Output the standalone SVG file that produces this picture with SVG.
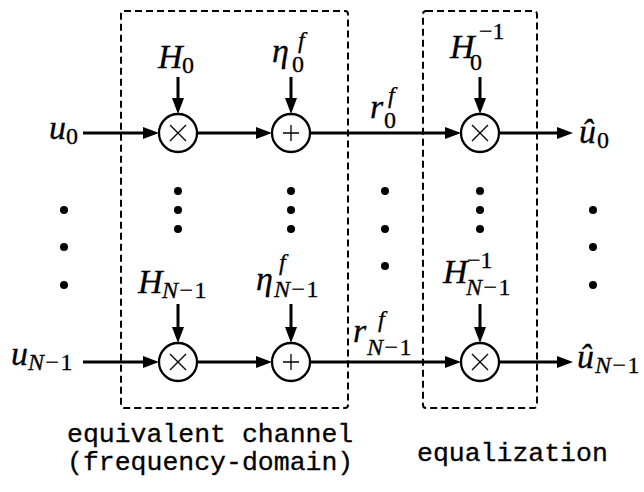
<svg xmlns="http://www.w3.org/2000/svg" width="644" height="492" viewBox="0 0 644 492">
<style>
.m{font-family:"Liberation Serif","Times New Roman",serif;font-size:34px;font-style:italic;fill:#000;stroke:#000;stroke-width:0.3}
.s{font-size:24px}
.r{font-style:normal}
.ls{letter-spacing:1.5px}
.t{font-family:"Liberation Mono","Courier New",monospace;font-size:26.5px;fill:#000;stroke:#000;stroke-width:0.3}
.w{stroke:#000;stroke-width:3;fill:none}
.c{stroke:#000;stroke-width:2.3;fill:#fff}
.op{stroke:#000;stroke-width:1.3;fill:none}
.box{stroke:#000;stroke-width:2;fill:none;stroke-dasharray:7 4}
.dot{fill:#000}
</style>
<defs>
<marker id="ah" markerUnits="userSpaceOnUse" viewBox="0 0 16 12" refX="6" refY="6" markerWidth="16" markerHeight="12" orient="auto">
<path d="M0,0 L16,6 L0,12 z" fill="#000"/>
</marker>
</defs>

<g id="boxes">
<rect class="box" x="121" y="11" width="227" height="397" rx="3"/>
<rect class="box" x="423" y="11" width="114" height="397" rx="3"/>
</g>

<g id="connectors">
<line class="w" x1="83" y1="133" x2="149" y2="133" marker-end="url(#ah)"/>
<line class="w" x1="197" y1="133" x2="262" y2="133" marker-end="url(#ah)"/>
<line class="w" x1="310" y1="133" x2="451" y2="133" marker-end="url(#ah)"/>
<line class="w" x1="499" y1="133" x2="563" y2="133" marker-end="url(#ah)"/>
<line class="w" x1="178" y1="77" x2="178" y2="104" marker-end="url(#ah)"/>
<line class="w" x1="291" y1="77" x2="291" y2="104" marker-end="url(#ah)"/>
<line class="w" x1="480" y1="77" x2="480" y2="104" marker-end="url(#ah)"/>

<line class="w" x1="83" y1="362" x2="149" y2="362" marker-end="url(#ah)"/>
<line class="w" x1="197" y1="362" x2="262" y2="362" marker-end="url(#ah)"/>
<line class="w" x1="310" y1="362" x2="451" y2="362" marker-end="url(#ah)"/>
<line class="w" x1="499" y1="362" x2="563" y2="362" marker-end="url(#ah)"/>
<line class="w" x1="178" y1="304" x2="178" y2="333" marker-end="url(#ah)"/>
<line class="w" x1="291" y1="304" x2="291" y2="333" marker-end="url(#ah)"/>
<line class="w" x1="480" y1="304" x2="480" y2="333" marker-end="url(#ah)"/>
</g>

<g id="mul0"><circle class="c" cx="178" cy="133" r="19"/><path class="op" d="M170,125 L186,141 M186,125 L170,141"/></g>
<g id="add0"><circle class="c" cx="291" cy="133" r="19"/><path class="op" d="M283,133 L299,133 M291,125 L291,141"/></g>
<g id="eq0"><circle class="c" cx="480" cy="133" r="19"/><path class="op" d="M472,125 L488,141 M488,125 L472,141"/></g>
<g id="mul1"><circle class="c" cx="178" cy="362" r="19"/><path class="op" d="M170,354 L186,370 M186,354 L170,370"/></g>
<g id="add1"><circle class="c" cx="291" cy="362" r="19"/><path class="op" d="M283,362 L299,362 M291,354 L291,370"/></g>
<g id="eq1"><circle class="c" cx="480" cy="362" r="19"/><path class="op" d="M472,354 L488,370 M488,354 L472,370"/></g>

<g id="dots">
<circle class="dot" cx="178" cy="191" r="4"/><circle class="dot" cx="178" cy="210" r="4"/><circle class="dot" cx="178" cy="229" r="4"/>
<circle class="dot" cx="291" cy="191" r="4"/><circle class="dot" cx="291" cy="210" r="4"/><circle class="dot" cx="291" cy="229" r="4"/>
<circle class="dot" cx="480" cy="191" r="4"/><circle class="dot" cx="480" cy="210" r="4"/><circle class="dot" cx="480" cy="229" r="4"/>
<circle class="dot" cx="385" cy="191" r="4"/><circle class="dot" cx="385" cy="229" r="4"/><circle class="dot" cx="385" cy="266" r="4"/>
<circle class="dot" cx="64" cy="210" r="4"/><circle class="dot" cx="64" cy="247" r="4"/><circle class="dot" cx="64" cy="285" r="4"/>
<circle class="dot" cx="593" cy="210" r="4"/><circle class="dot" cx="593" cy="247" r="4"/><circle class="dot" cx="593" cy="285" r="4"/>
</g>

<g id="labels">
<text class="m" x="49" y="139">u<tspan class="s r" x="66" y="144">0</tspan></text>
<text class="m" x="158" y="68">H<tspan class="s r" x="182" y="73">0</tspan></text>
<text class="m" x="272" y="62">η<tspan class="s r" x="292" y="72">0</tspan><tspan class="s" x="298" y="48">f</tspan></text>
<text class="m" x="370" y="118">r<tspan class="s r" x="384" y="128">0</tspan><tspan class="s" x="388" y="103">f</tspan></text>
<text class="m" x="450" y="58">H<tspan class="s r" x="470" y="70">0</tspan><tspan class="s r" x="479" y="39">−1</tspan></text>
<text class="m" x="579" y="143">û<tspan class="s r" x="597" y="148">0</tspan></text>

<text class="m" x="11" y="365">u<tspan class="s ls" x="28" y="370">N<tspan class="r">−1</tspan></tspan></text>
<text class="m" x="138" y="293">H<tspan class="s ls" x="162" y="298">N<tspan class="r">−1</tspan></tspan></text>
<text class="m" x="256" y="290">η<tspan class="s ls" x="274" y="297">N<tspan class="r">−1</tspan></tspan><tspan class="s" x="279" y="270">f</tspan></text>
<text class="m" x="353" y="342">r<tspan class="s ls" x="367" y="355">N<tspan class="r">−1</tspan></tspan><tspan class="s" x="378" y="327">f</tspan></text>
<text class="m" x="443" y="283">H<tspan class="s ls" x="466" y="295">N<tspan class="r">−1</tspan></tspan><tspan class="s r" x="467" y="268">−1</tspan></text>
<text class="m" x="577" y="368">û<tspan class="s ls" x="595" y="373">N<tspan class="r">−1</tspan></tspan></text>
</g>

<g id="captions">
<text class="t" x="67" y="442">equivalent channel</text>
<text class="t" x="67" y="470">(frequency-domain)</text>
<text class="t" x="417" y="461">equalization</text>
</g>
</svg>
